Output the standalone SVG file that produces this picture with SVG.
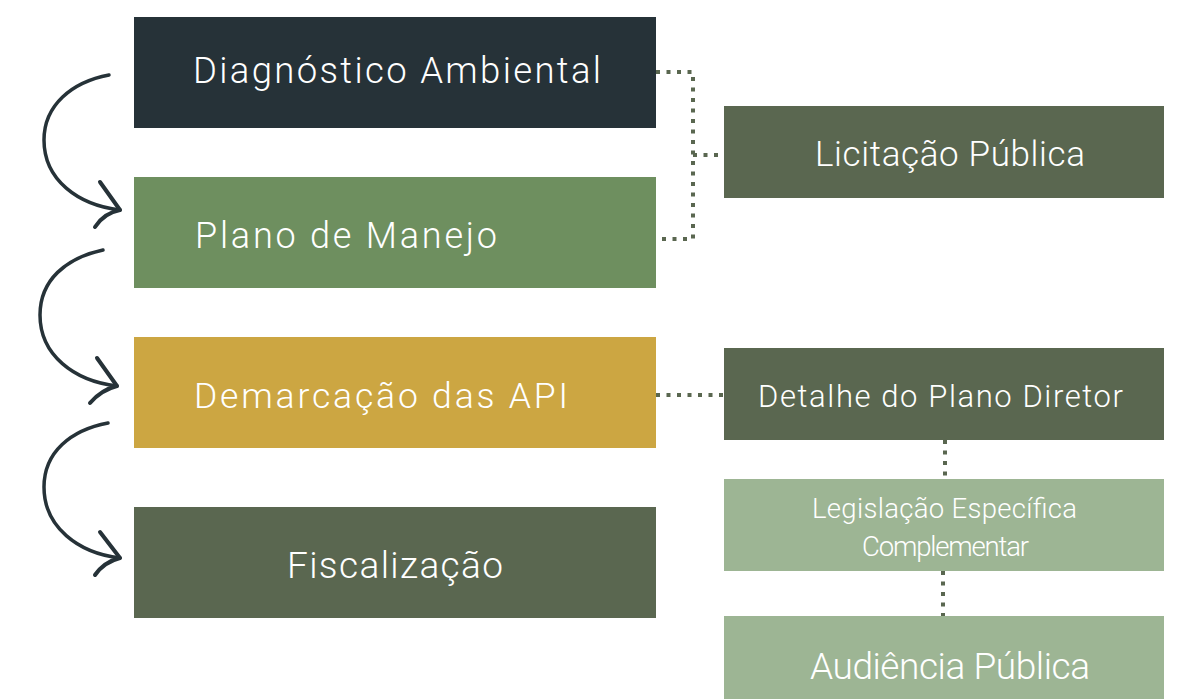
<svg xmlns="http://www.w3.org/2000/svg" width="1188" height="699" viewBox="0 0 1188 699">
<style>
text{font-family:Roboto,"Liberation Sans",sans-serif;font-weight:300;fill:#ffffff;}
.dot{fill:none;stroke:#5a6750;stroke-width:4;stroke-dasharray:4 6.5;}
.arr{fill:none;stroke:#263238;stroke-linecap:round;stroke-linejoin:round;}
</style>
<rect width="1188" height="699" fill="#ffffff"/>
<g id="connectors">
<path class="dot" d="M656,72 H693 V239 H656"/>
<path class="dot" d="M693,155 H724"/>
<path class="dot" d="M656,395 H724"/>
<path class="dot" d="M945,440 V479"/>
<path class="dot" d="M943,571 V616"/>
<path class="arr" stroke-width="3.5" d="M109,75 C72,82 44,105 44,140 C44,180 78,205 120,210"/>
<path class="arr" stroke-width="4" d="M100,182 L120,210 Q104,213 95,227"/>
<path class="arr" stroke-width="3.5" d="M103,250 C66,258 40,280 40,315 C40,355 74,381 117,386"/>
<path class="arr" stroke-width="4" d="M97,358 L117,386 Q101,390 90,403"/>
<path class="arr" stroke-width="3.5" d="M108,423 C71,430 44,452 44,487 C44,527 78,553 120,558"/>
<path class="arr" stroke-width="4" d="M100,532 L120,558 Q104,562 95,575"/>
</g>
<g id="n1"><rect x="134" y="17" width="522" height="111" fill="#263238"/><text x="193" y="83" font-size="36.5" textLength="408" lengthAdjust="spacing">Diagnóstico Ambiental</text></g>
<g id="n2"><rect x="134" y="177" width="522" height="111" fill="#6e8f5f"/><text x="195" y="248" font-size="36" textLength="302" lengthAdjust="spacing">Plano de Manejo</text></g>
<g id="n3"><rect x="134" y="337" width="522" height="111" fill="#cca642"/><text x="194" y="408" font-size="35.5" textLength="374" lengthAdjust="spacing">Demarcação das API</text></g>
<g id="n4"><rect x="134" y="507" width="522" height="111" fill="#5a6750"/><text x="287" y="578" font-size="37" textLength="216" lengthAdjust="spacing">Fiscalização</text></g>
<g id="n5"><rect x="724" y="106" width="440" height="92" fill="#5a6750"/><text x="815" y="166" font-size="35" textLength="270" lengthAdjust="spacing">Licitação Pública</text></g>
<g id="n6"><rect x="724" y="348" width="440" height="92" fill="#5a6750"/><text x="758" y="407" font-size="31" textLength="365" lengthAdjust="spacing">Detalhe do Plano Diretor</text></g>
<g id="n7"><rect x="724" y="479" width="440" height="92" fill="#9db594"/><text x="812" y="518" font-size="27.5" textLength="265" lengthAdjust="spacing">Legislação Específica</text><text x="862" y="556" font-size="27.5" textLength="167" lengthAdjust="spacing">Complementar</text></g>
<g id="n8"><rect x="724" y="616" width="440" height="83" fill="#9db594"/><text x="810" y="679" font-size="37" textLength="280" lengthAdjust="spacing">Audiência Pública</text></g>
</svg>
